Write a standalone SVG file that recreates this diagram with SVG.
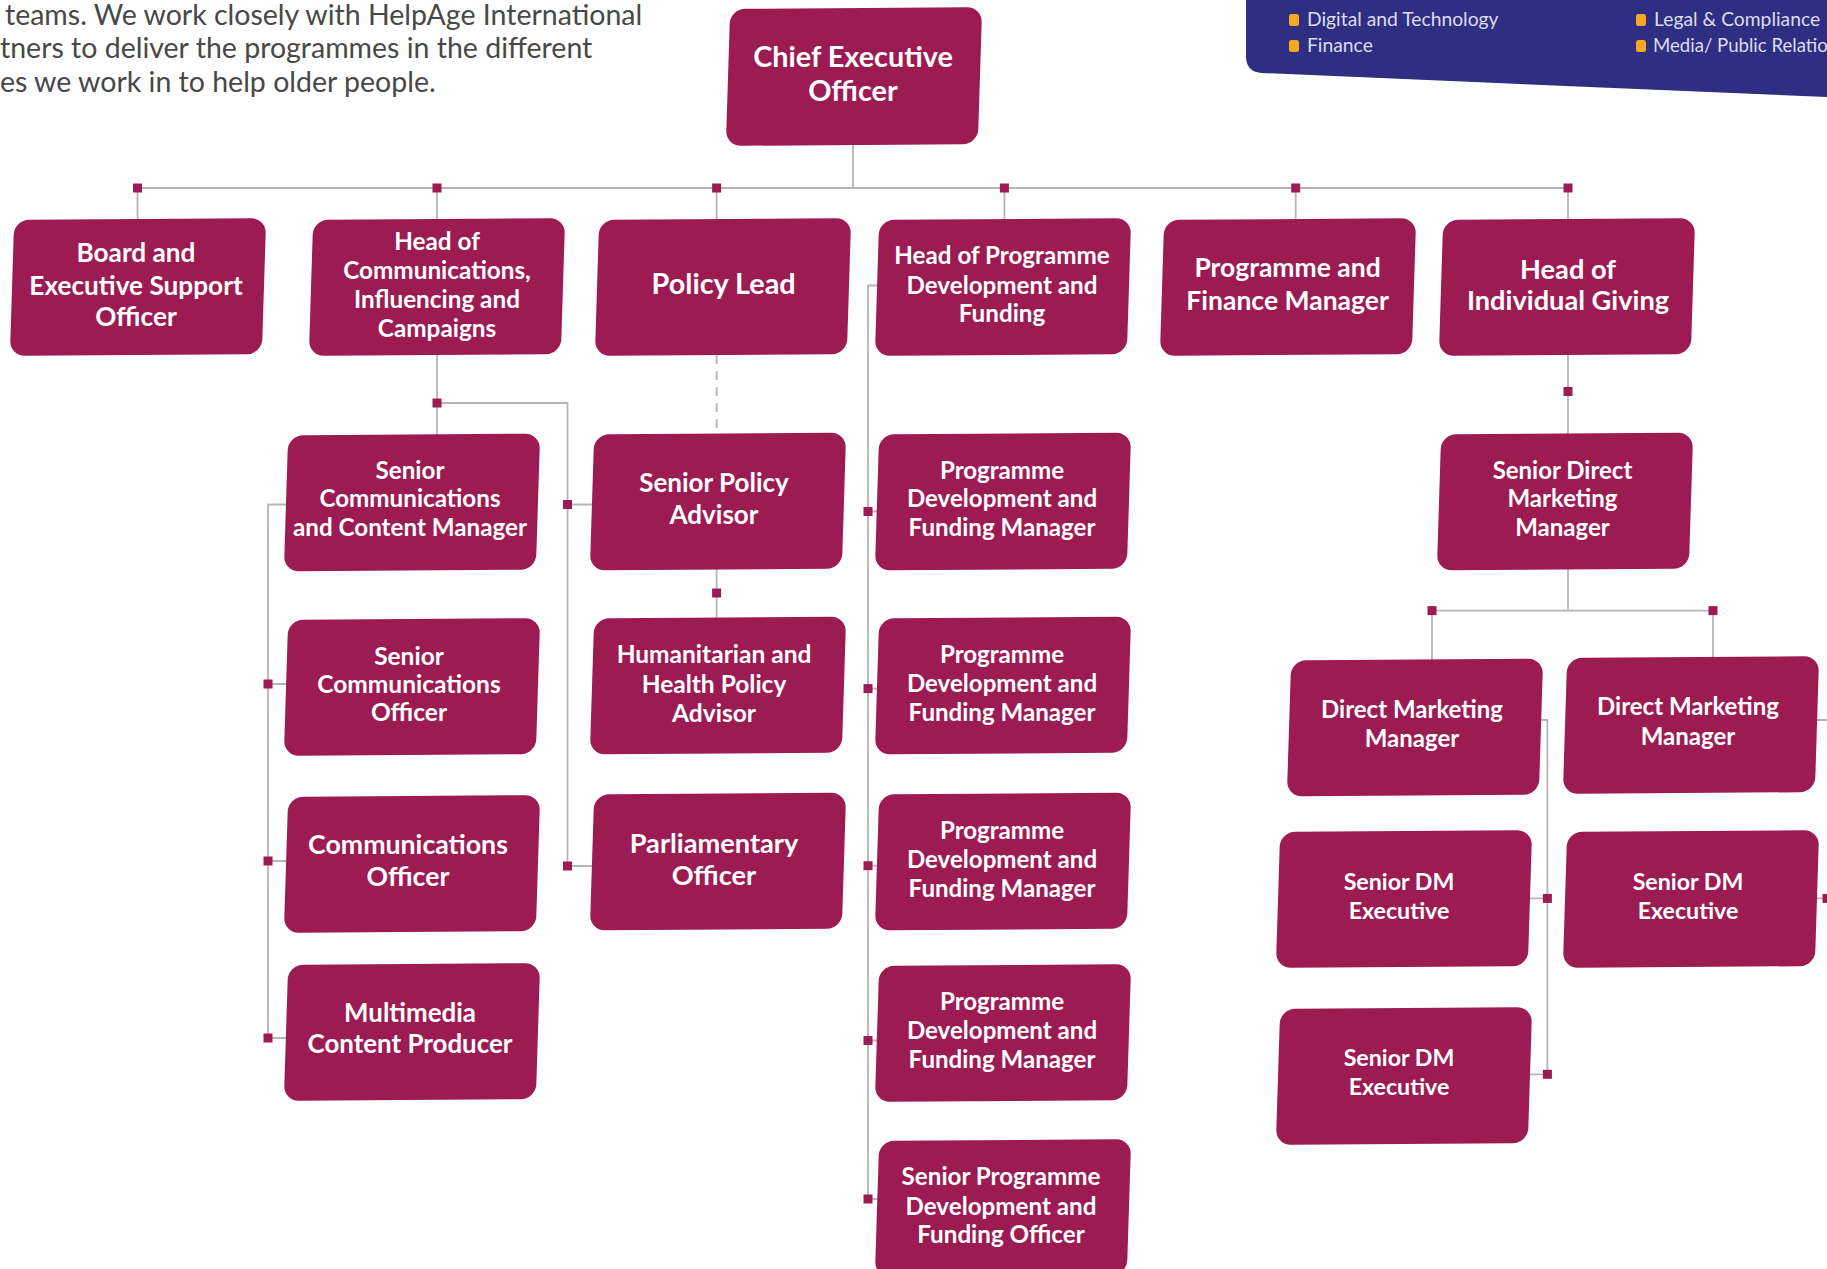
<svg xmlns="http://www.w3.org/2000/svg" width="1827" height="1269" viewBox="0 0 1827 1269">
<style>
.box{fill:#9d1b53;transform-box:fill-box;transform-origin:center;transform:skew(-1.8deg,-0.4deg)}
.t{font-family:Lato,"Liberation Sans",sans-serif;font-weight:700;fill:#fff;text-anchor:middle}
.ln{stroke:#b5b5b5;stroke-width:1.8;fill:none}
.dash{stroke-dasharray:9 7}
.sq{fill:#9d1b53}
.para{font-family:Lato,"Liberation Sans",sans-serif;font-size:28.5px;fill:#484848}
.leg{font-family:Lato,"Liberation Sans",sans-serif;font-size:19.3px;fill:#dcdcf2}
.bul{fill:#f7a823}
</style>
<defs>
<rect id="sq" class="sq" x="-4.5" y="-4.5" width="9" height="9"/>
</defs>
<rect width="1827" height="1269" fill="#ffffff"/>

<g id="intro">
<text class="para" x="5" y="24.5">teams. We work closely with HelpAge International</text>
<text class="para" x="0" y="58">tners to deliver the programmes in the different</text>
<text class="para" x="0" y="91.5">es we work in to help older people.</text>
</g>

<g id="legend">
<path d="M1246,0 H1827 V97 L1262,73 Q1247,72 1246,58 Z" fill="#2e2f82"/>
<rect class="bul" x="1289" y="14" width="10" height="12" rx="2.5"/>
<text class="leg" x="1307" y="26">Digital and Technology</text>
<rect class="bul" x="1289" y="40" width="10" height="12" rx="2.5"/>
<text class="leg" x="1307" y="52">Finance</text>
<rect class="bul" x="1636" y="14" width="10" height="12" rx="2.5"/>
<text class="leg" x="1654" y="26">Legal &amp; Compliance</text>
<rect class="bul" x="1636" y="40" width="10" height="12" rx="2.5"/>
<text class="leg" x="1653" y="52" font-size="18.6" style="font-size:18.6px">Media/ Public Relatio</text>
</g>

<g id="connectors">
<path class="ln" d="M853,145 V188 M137.5,188 H1568 M137.5,188 V220 M437,188 V220 M716.6,188 V220 M1004.4,188 V220 M1295.7,188 V220 M1568,188 V220"/>
<path class="ln" d="M437,355 V435 M437,403 H567.5 V866 M567.5,504.5 H593 M567.5,866 H593"/>
<path class="ln" d="M287,504.5 H268 V1038 M268,684 H287 M268,861 H287 M268,1038 H287"/>
<path class="ln dash" d="M716.6,355 V433.5"/>
<path class="ln" d="M716.6,568 V618"/>
<path class="ln" d="M877,285.5 H868 V1199 M868,511.5 H878 M868,688.6 H878 M868,865.7 H878 M868,1040.5 H878 M868,1199 H878"/>
<path class="ln" d="M1568,355 V434 M1568,568 V610.6 M1432,610.6 H1713 M1432,610.6 V660 M1713,610.6 V658"/>
<path class="ln" d="M1539,720 H1547.4 V1074.3 M1528,898.4 H1547.4 M1528,1074.3 H1547.4"/>
<path class="ln" d="M1814,720 H1827 M1814,898.4 H1827"/>
<use href="#sq" x="137.5" y="188"/>
<use href="#sq" x="437" y="188"/>
<use href="#sq" x="716.6" y="188"/>
<use href="#sq" x="1004.4" y="188"/>
<use href="#sq" x="1295.7" y="188"/>
<use href="#sq" x="1568" y="188"/>
<use href="#sq" x="437" y="403"/>
<use href="#sq" x="567.5" y="504.5"/>
<use href="#sq" x="567.5" y="866"/>
<use href="#sq" x="268" y="684"/>
<use href="#sq" x="268" y="861"/>
<use href="#sq" x="268" y="1038"/>
<use href="#sq" x="716.6" y="593"/>
<use href="#sq" x="868" y="511.5"/>
<use href="#sq" x="868" y="688.6"/>
<use href="#sq" x="868" y="865.7"/>
<use href="#sq" x="868" y="1040.5"/>
<use href="#sq" x="868" y="1199"/>
<use href="#sq" x="1568" y="391.5"/>
<use href="#sq" x="1432" y="610.6"/>
<use href="#sq" x="1713" y="610.6"/>
<use href="#sq" x="1547.4" y="898.4"/>
<use href="#sq" x="1547.4" y="1074.3"/>
<use href="#sq" x="1827" y="898.4"/>
</g>

<g id="ceo"><rect class="box" x="728" y="8" width="252" height="137" rx="15"/>
<text class="t" font-size="28.8"><tspan x="853" y="67.1">Chief Executive</tspan><tspan x="853" y="101.1">Officer</tspan></text></g>

<g id="board"><rect class="box" x="12" y="219" width="252" height="136" rx="15"/>
<text class="t" font-size="26.2"><tspan x="136" y="262.2">Board and</tspan><tspan x="136" y="294.7">Executive Support</tspan><tspan x="136" y="326.2">Officer</tspan></text></g>

<g id="head-comms"><rect class="box" x="311" y="219" width="252" height="136" rx="15"/>
<text class="t" font-size="24.3"><tspan x="437" y="249.5">Head of</tspan><tspan x="437" y="278.5">Communications,</tspan><tspan x="437" y="308">Influencing and</tspan><tspan x="437" y="337.1">Campaigns</tspan></text></g>

<g id="policy-lead"><rect class="box" x="597" y="219" width="252" height="136" rx="15"/>
<text class="t" font-size="28.8"><tspan x="723.6" y="294.1">Policy Lead</tspan></text></g>

<g id="head-programme"><rect class="box" x="877" y="219" width="252" height="136" rx="15"/>
<text class="t" font-size="24.2"><tspan x="1002" y="263.5">Head of Programme</tspan><tspan x="1002" y="294">Development and</tspan><tspan x="1002" y="321.9">Funding</tspan></text></g>

<g id="prog-finance"><rect class="box" x="1162" y="219" width="252" height="136" rx="15"/>
<text class="t" font-size="26.5"><tspan x="1287.6" y="277.3">Programme and</tspan><tspan x="1287.6" y="309.9">Finance Manager</tspan></text></g>

<g id="head-giving"><rect class="box" x="1441" y="219" width="252" height="136" rx="15"/>
<text class="t" font-size="27.2"><tspan x="1568" y="278.5">Head of</tspan><tspan x="1568" y="310.1">Individual Giving</tspan></text></g>

<g id="sccm"><rect class="box" x="286" y="434.5" width="252" height="136" rx="15"/>
<text class="t" font-size="24.2"><tspan x="410" y="479.2">Senior</tspan><tspan x="410" y="507.2">Communications</tspan><tspan x="410" y="536.3">and Content Manager</tspan></text></g>

<g id="sco"><rect class="box" x="286" y="619" width="252" height="136" rx="15"/>
<text class="t" font-size="24.5"><tspan x="409" y="664.6">Senior</tspan><tspan x="409" y="692.6">Communications</tspan><tspan x="409" y="720.6">Officer</tspan></text></g>

<g id="co"><rect class="box" x="286" y="796" width="252" height="136" rx="15"/>
<text class="t" font-size="26.7"><tspan x="408" y="854.1">Communications</tspan><tspan x="408" y="885.5">Officer</tspan></text></g>

<g id="mm"><rect class="box" x="286" y="964" width="252" height="136" rx="15"/>
<text class="t" font-size="25.9"><tspan x="410" y="1021.7">Multimedia</tspan><tspan x="410" y="1053.1">Content Producer</tspan></text></g>

<g id="spa"><rect class="box" x="592" y="433.5" width="252" height="136" rx="15"/>
<text class="t" font-size="26"><tspan x="714" y="491.5">Senior Policy</tspan><tspan x="714" y="524.1">Advisor</tspan></text></g>

<g id="hum"><rect class="box" x="592" y="617.5" width="252" height="136" rx="15"/>
<text class="t" font-size="24.5"><tspan x="714" y="663.4">Humanitarian and</tspan><tspan x="714" y="692.6">Health Policy</tspan><tspan x="714" y="721.6">Advisor</tspan></text></g>

<g id="po"><rect class="box" x="592" y="793.5" width="252" height="136" rx="15"/>
<text class="t" font-size="27.2"><tspan x="714" y="853.1">Parliamentary</tspan><tspan x="714" y="884.5">Officer</tspan></text></g>

<g id="pdfm1"><rect class="box" x="877" y="433.5" width="252" height="136" rx="15"/>
<text class="t" font-size="24.1"><tspan x="1002" y="479.1">Programme</tspan><tspan x="1002" y="507.1">Development and</tspan><tspan x="1002" y="536.2">Funding Manager</tspan></text></g>

<g id="pdfm2"><rect class="box" x="877" y="617.5" width="252" height="136" rx="15"/>
<text class="t" font-size="24.1"><tspan x="1002" y="663.2">Programme</tspan><tspan x="1002" y="692.4">Development and</tspan><tspan x="1002" y="721.4">Funding Manager</tspan></text></g>

<g id="pdfm3"><rect class="box" x="877" y="793.5" width="252" height="136" rx="15"/>
<text class="t" font-size="24.1"><tspan x="1002" y="839.2">Programme</tspan><tspan x="1002" y="868.4">Development and</tspan><tspan x="1002" y="897.4">Funding Manager</tspan></text></g>

<g id="pdfm4"><rect class="box" x="877" y="965" width="252" height="136" rx="15"/>
<text class="t" font-size="24.1"><tspan x="1002" y="1010.4">Programme</tspan><tspan x="1002" y="1039.4">Development and</tspan><tspan x="1002" y="1068.4">Funding Manager</tspan></text></g>

<g id="spdfo"><rect class="box" x="877" y="1140" width="252" height="136" rx="15"/>
<text class="t" font-size="24.2"><tspan x="1001" y="1185.4">Senior Programme</tspan><tspan x="1001" y="1214.5">Development and</tspan><tspan x="1001" y="1242.5">Funding Officer</tspan></text></g>

<g id="sdmm"><rect class="box" x="1439" y="433.5" width="252" height="136" rx="15"/>
<text class="t" font-size="24"><tspan x="1562.5" y="479.1">Senior Direct</tspan><tspan x="1562.5" y="507.1">Marketing</tspan><tspan x="1562.5" y="536.2">Manager</tspan></text></g>

<g id="dmm1"><rect class="box" x="1289" y="659.5" width="252" height="136" rx="15"/>
<text class="t" font-size="24"><tspan x="1412" y="718">Direct Marketing</tspan><tspan x="1412" y="747.1">Manager</tspan></text></g>

<g id="dmm2"><rect class="box" x="1565" y="657" width="252" height="136" rx="15"/>
<text class="t" font-size="24"><tspan x="1688" y="715.4">Direct Marketing</tspan><tspan x="1688" y="744.8">Manager</tspan></text></g>

<g id="sde1"><rect class="box" x="1278" y="831" width="252" height="136" rx="15"/>
<text class="t" font-size="23.2"><tspan x="1399" y="890">Senior DM</tspan><tspan x="1399" y="919">Executive</tspan></text></g>

<g id="sde2"><rect class="box" x="1278" y="1008" width="252" height="136" rx="15"/>
<text class="t" font-size="23.2"><tspan x="1399" y="1066">Senior DM</tspan><tspan x="1399" y="1095">Executive</tspan></text></g>

<g id="sde3"><rect class="box" x="1565" y="831" width="252" height="136" rx="15"/>
<text class="t" font-size="23.2"><tspan x="1688" y="890">Senior DM</tspan><tspan x="1688" y="919">Executive</tspan></text></g>
</svg>
